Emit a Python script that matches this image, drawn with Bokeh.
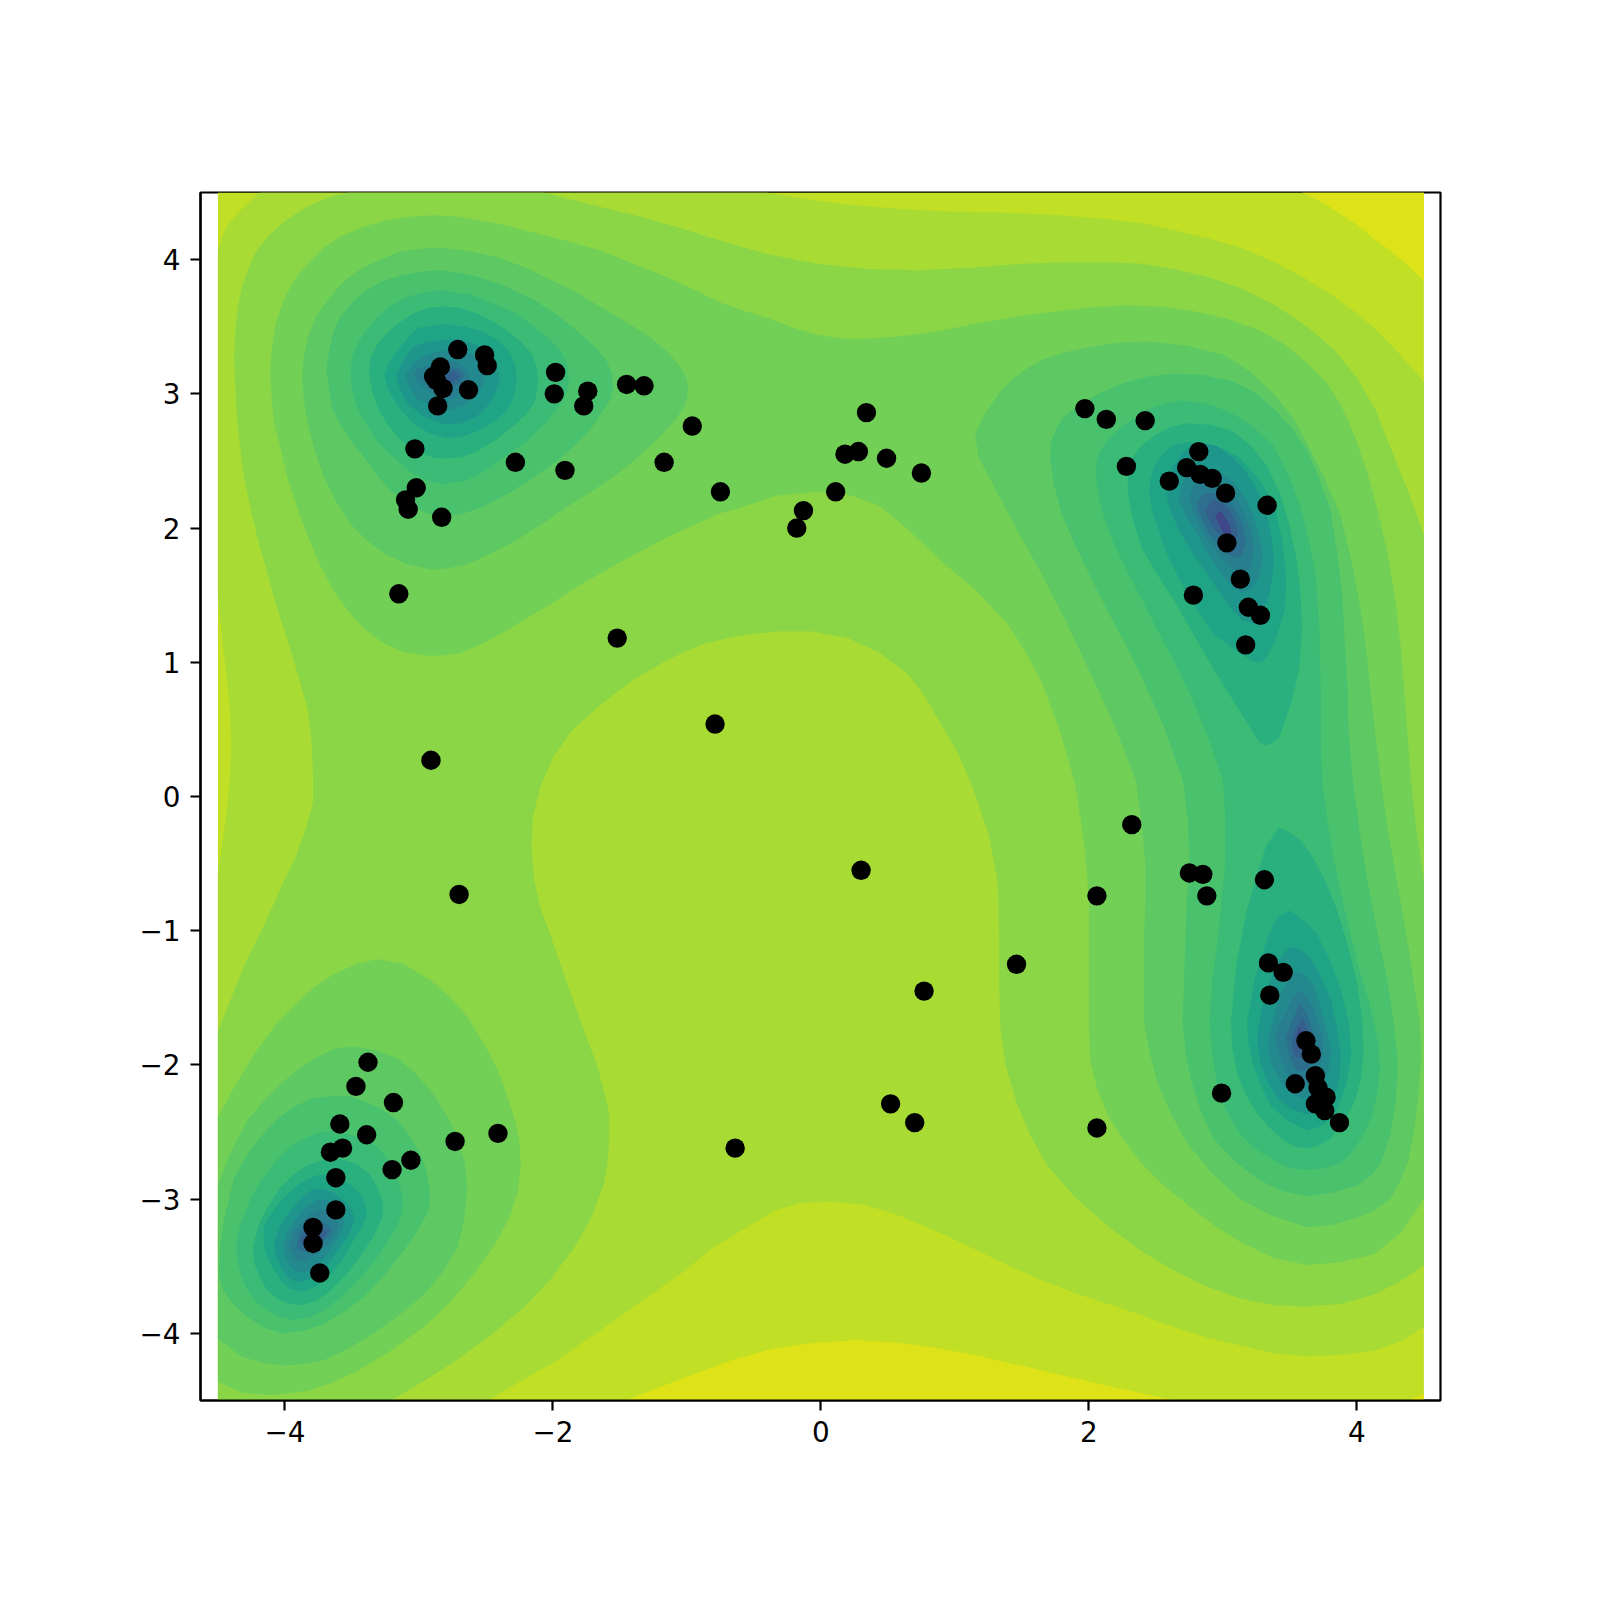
from bokeh.embed import file_html
from bokeh.models import ColumnDataSource, FixedTicker, Range1d
from bokeh.plotting import figure
from bokeh.resources import INLINE

# Scatter points
points_x = [-2.71,-2.51,-2.49,-2.84,-2.89,-2.87,-2.82,-2.63,-2.86,-1.98,-1.99,-1.74,-1.77,-1.45,-1.32,-0.96,-1.17,-2.28,-1.91,-0.75,-3.03,-3.02,-3.10,-3.08,-2.83,-3.15,-1.52,-0.79,-2.91,-2.70,
            0.34,0.28,0.18,0.49,0.75,0.11,-0.13,-0.18,0.30,0.77,1.46,0.52,0.70,-0.64,
            1.97,2.13,2.42,2.28,2.82,2.73,2.83,2.92,2.60,3.02,3.33,3.03,3.13,2.78,3.19,3.28,3.17,
            2.32,2.75,2.85,2.88,2.06,3.31,3.34,3.45,3.35,3.62,3.66,3.69,3.54,2.99,3.71,3.77,3.69,3.76,3.87,2.06,
            -3.38,-3.47,-3.19,-3.59,-3.39,-2.73,-2.41,-3.57,-3.66,-3.06,-3.20,-3.62,-3.62,-3.79,-3.79,-3.74]
points_y = [3.33,3.29,3.21,3.20,3.13,3.10,3.04,3.03,2.91,3.16,3.00,3.02,2.91,3.07,3.06,2.76,2.49,2.49,2.43,2.27,2.59,2.30,2.21,2.14,2.08,1.51,1.18,0.54,0.27,-0.73,
            2.86,2.57,2.55,2.52,2.41,2.27,2.13,2.00,-0.55,-1.45,-1.25,-2.29,-2.43,-2.62,
            2.89,2.81,2.80,2.46,2.57,2.45,2.40,2.37,2.35,2.26,2.17,1.89,1.62,1.50,1.41,1.35,1.13,
            -0.21,-0.57,-0.58,-0.74,-0.74,-0.62,-1.24,-1.31,-1.48,-1.82,-1.92,-2.08,-2.14,-2.21,-2.17,-2.24,-2.29,-2.34,-2.43,-2.47,
            -1.98,-2.16,-2.28,-2.44,-2.52,-2.57,-2.51,-2.62,-2.65,-2.71,-2.78,-2.84,-3.08,-3.21,-3.33,-3.55]

x_ticks = [-4, -2, 0, 2, 4]
y_ticks = [-4, -3, -2, -1, 0, 1, 2, 3, 4]
tick_labels = {-4: "\u22124", -3: "\u22123", -2: "\u22122", -1: "\u22121", 0: "0", 1: "1", 2: "2", 3: "3", 4: "4"}

band_colors = ["#dde318", "#c0df25", "#a8db34", "#8bd646", "#73d056", "#5ec962", "#4ac16d", "#3bbb75",
               "#2ab07f", "#20a486", "#1f968b", "#23898e", "#287d8e", "#2e6e8e", "#355f8d", "#3f4788"]

# Contour band outlines, (x, y) in data units
field = [(-4.5,-4.5),(-4.5,4.5),(4.5,4.5),(4.5,-4.5)]
l0_top_right = [(3.59,4.5),(3.74,4.43),(3.88,4.34),(4.0,4.26),(4.12,4.16),(4.23,4.08),(4.33,4.0),(4.42,3.92),(4.5,3.84),(4.5,4.5)]
l0_bottom = [(-1.46,-4.5),(-1.2,-4.40),(-0.94,-4.30),(-0.64,-4.19),(-0.34,-4.11),(-0.04,-4.07),(0.27,-4.05),(0.58,-4.07),(0.88,-4.11),(1.19,-4.17),(1.49,-4.24),(2.05,-4.37),(2.64,-4.5)]
l0_corner = [(4.38,-4.5),(4.5,-4.45),(4.5,-4.5)]

l2_main = [(-4.19,4.5),(-0.41,4.5),(-0.1,4.45),(0.2,4.41),(0.55,4.38),(0.89,4.36),(1.39,4.35),(1.78,4.33),(2.14,4.30),(2.40,4.27),(2.63,4.22),(2.89,4.16),(3.13,4.09),(3.39,3.98),(3.63,3.85),(3.82,3.73),(4.0,3.60),(4.13,3.49),(4.25,3.37),(4.38,3.23),(4.5,3.09),
           (4.5,-3.95),(4.33,-4.06),(4.13,-4.13),(3.9,-4.16),(3.63,-4.17),(3.38,-4.15),(3.13,-4.09),(2.88,-4.03),(2.63,-3.95),(2.38,-3.86),(2.14,-3.78),(1.89,-3.70),(1.64,-3.60),(1.39,-3.49),(1.14,-3.37),(0.89,-3.25),(0.58,-3.12),(0.32,-3.04),(0.05,-3.02),(-0.15,-3.03),(-0.34,-3.08),(-0.55,-3.21),(-0.79,-3.35),(-1.05,-3.56),(-1.35,-3.77),(-1.65,-3.98),(-1.97,-4.20),(-2.23,-4.35),(-2.49,-4.5),
           (-4.5,-4.5),(-4.5,-0.57),(-4.46,-0.30),(-4.43,-0.08),(-4.41,0.15),(-4.40,0.38),(-4.41,0.64),(-4.43,0.86),(-4.46,1.09),(-4.5,1.50),(-4.5,4.06),(-4.46,4.19),(-4.41,4.28),(-4.36,4.34),(-4.28,4.42)]

l3_main = [(-3.52,4.5),(-2.07,4.5),(-1.72,4.41),(-1.39,4.33),(-1.06,4.24),(-0.75,4.14),(-0.39,4.04),(-0.03,3.97),(0.35,3.93),(0.73,3.92),(1.12,3.94),(1.51,3.97),(1.83,3.98),(2.14,3.98),(2.40,3.97),(2.63,3.93),(2.89,3.87),(3.13,3.79),(3.39,3.66),(3.63,3.50),(3.83,3.33),(4.0,3.12),(4.14,2.88),(4.25,2.60),(4.38,2.28),(4.5,1.95),
           (4.5,-3.49),(4.33,-3.61),(4.13,-3.71),(3.88,-3.78),(3.63,-3.80),(3.38,-3.79),(3.13,-3.74),(2.88,-3.65),(2.63,-3.53),(2.38,-3.38),(2.14,-3.20),(1.90,-2.99),(1.69,-2.75),(1.56,-2.52),(1.46,-2.28),(1.38,-2.01),(1.34,-1.74),(1.33,-1.38),(1.33,-1.0),(1.32,-0.63),(1.25,-0.28),(1.14,0.05),(1.02,0.33),(0.89,0.55),(0.78,0.74),(0.65,0.91),(0.44,1.07),(0.2,1.18),(-0.06,1.23),(-0.33,1.23),(-0.60,1.20),(-0.87,1.14),(-1.14,1.02),(-1.40,0.87),(-1.65,0.68),(-1.86,0.49),(-2.0,0.29),(-2.09,0.08),(-2.15,-0.15),(-2.16,-0.38),(-2.14,-0.62),(-2.09,-0.84),(-2.03,-1.0),(-1.92,-1.32),(-1.83,-1.57),(-1.74,-1.82),(-1.67,-2.0),(-1.62,-2.19),(-1.58,-2.36),(-1.58,-2.54),(-1.59,-2.72),(-1.62,-2.89),(-1.71,-3.13),(-1.84,-3.36),(-2.02,-3.60),(-2.22,-3.81),(-2.46,-4.01),(-2.72,-4.20),(-2.97,-4.36),(-3.21,-4.5),
           (-4.5,-4.5),(-4.5,-1.75),(-4.40,-1.50),(-4.30,-1.25),(-4.16,-0.97),(-4.03,-0.68),(-3.92,-0.45),(-3.84,-0.23),(-3.79,-0.04),(-3.79,0.15),(-3.80,0.40),(-3.83,0.65),(-3.90,0.90),(-3.98,1.16),(-4.06,1.41),(-4.13,1.66),(-4.20,1.91),(-4.26,2.16),(-4.31,2.40),(-4.34,2.65),(-4.36,2.85),(-4.37,3.05),(-4.38,3.28),(-4.37,3.47),(-4.35,3.65),(-4.32,3.80),(-4.27,3.94),(-4.21,4.07),(-4.12,4.18),(-4.01,4.28),(-3.89,4.36),(-3.78,4.42),(-3.65,4.47)]

l4_main = [(-2.89,4.33),(-2.70,4.32),(-2.52,4.29),(-2.33,4.25),(-2.14,4.20),(-1.90,4.14),(-1.65,4.07),(-1.40,3.97),(-1.15,3.87),(-0.95,3.78),(-0.75,3.68),(-0.58,3.62),(-0.41,3.57),(-0.2,3.49),(-0.03,3.44),(0.17,3.41),(0.35,3.41),(0.62,3.43),(0.89,3.47),(1.25,3.54),(1.64,3.60),(1.95,3.64),(2.26,3.66),(2.52,3.65),(2.76,3.62),(3.03,3.56),(3.26,3.48),(3.46,3.37),(3.63,3.23),(3.77,3.09),(3.88,2.92),(3.99,2.67),(4.08,2.41),(4.16,2.11),(4.23,1.81),(4.29,1.45),(4.33,1.09),(4.37,0.57),(4.41,0.05),(4.45,-0.29),(4.5,-0.63),
           (4.5,-3.0),(4.33,-3.25),(4.13,-3.41),(3.88,-3.47),(3.63,-3.49),(3.38,-3.44),(3.13,-3.32),(2.94,-3.20),(2.76,-3.06),(2.56,-2.90),(2.39,-2.73),(2.25,-2.55),(2.14,-2.37),(2.06,-2.17),(2.01,-1.98),(2.0,-1.68),(2.0,-1.38),(2.0,-1.08),(2.0,-0.78),(1.98,-0.51),(1.95,-0.24),(1.89,0.12),(1.78,0.50),(1.64,0.87),(1.52,1.09),(1.39,1.29),(1.15,1.54),(0.89,1.76),(0.66,1.98),(0.43,2.17),(0.2,2.25),(-0.03,2.27),(-0.33,2.24),(-0.64,2.14),(-0.75,2.11),(-0.95,2.02),(-1.15,1.93),(-1.40,1.80),(-1.65,1.66),(-1.84,1.55),(-2.02,1.43),(-2.21,1.32),(-2.39,1.21),(-2.54,1.13),(-2.69,1.07),(-2.82,1.05),(-2.96,1.05),(-3.12,1.08),(-3.26,1.14),(-3.40,1.24),(-3.51,1.36),(-3.63,1.52),(-3.73,1.71),(-3.83,1.94),(-3.91,2.16),(-3.98,2.37),(-4.03,2.58),(-4.08,2.78),(-4.10,2.98),(-4.11,3.15),(-4.10,3.32),(-4.07,3.52),(-4.01,3.70),(-3.93,3.85),(-3.83,3.97),(-3.72,4.08),(-3.59,4.17),(-3.43,4.24),(-3.26,4.29),(-3.08,4.32)]
l4_low = [(-3.31,-1.21),(-3.47,-1.25),(-3.63,-1.32),(-3.78,-1.42),(-3.91,-1.54),(-4.07,-1.70),(-4.21,-1.89),(-4.36,-2.13),(-4.5,-2.39),(-4.5,-4.36),(-4.33,-4.44),(-4.11,-4.46),(-3.83,-4.43),(-3.65,-4.37),(-3.46,-4.28),(-3.21,-4.13),(-2.96,-3.95),(-2.77,-3.77),(-2.59,-3.56),(-2.44,-3.35),(-2.32,-3.13),(-2.26,-2.94),(-2.24,-2.74),(-2.25,-2.56),(-2.29,-2.39),(-2.35,-2.20),(-2.42,-2.02),(-2.52,-1.83),(-2.64,-1.64),(-2.77,-1.49),(-2.91,-1.37),(-3.11,-1.25)]

l5_tl = [(-2.84,4.09),(-2.61,4.06),(-2.39,4.01),(-2.20,3.94),(-2.02,3.85),(-1.83,3.76),(-1.65,3.65),(-1.46,3.54),(-1.27,3.42),(-1.14,3.31),(-1.05,3.20),(-1.00,3.11),(-0.99,3.03),(-1.00,2.96),(-1.02,2.90),(-1.10,2.79),(-1.20,2.68),(-1.35,2.54),(-1.52,2.40),(-1.70,2.28),(-1.89,2.16),(-2.08,2.03),(-2.27,1.91),(-2.46,1.81),(-2.64,1.73),(-2.78,1.70),(-2.91,1.69),(-3.09,1.73),(-3.26,1.81),(-3.39,1.91),(-3.51,2.03),(-3.62,2.20),(-3.71,2.38),(-3.78,2.58),(-3.83,2.78),(-3.86,2.96),(-3.87,3.13),(-3.86,3.28),(-3.83,3.42),(-3.77,3.57),(-3.68,3.70),(-3.57,3.83),(-3.44,3.93),(-3.29,4.00),(-3.14,4.06),(-2.99,4.08)]
l5_right = [(1.15,2.69),(1.20,2.81),(1.27,2.92),(1.35,3.03),(1.44,3.12),(1.54,3.19),(1.64,3.25),(1.82,3.31),(2.01,3.35),(2.22,3.38),(2.43,3.39),(2.73,3.36),(3.01,3.29),(3.21,3.16),(3.38,3.00),(3.52,2.83),(3.63,2.63),(3.76,2.37),(3.88,2.09),(3.96,1.75),(4.03,1.38),(4.07,1.10),(4.10,0.81),(4.14,0.45),(4.18,0.12),(4.23,-0.25),(4.30,-0.63),(4.39,-1.15),(4.47,-1.68),(4.48,-1.95),(4.46,-2.22),(4.43,-2.48),(4.38,-2.73),(4.32,-2.87),(4.25,-3.0),(4.12,-3.09),(4.00,-3.14),(3.82,-3.19),(3.63,-3.21),(3.38,-3.13),(3.13,-3.0),(2.92,-2.81),(2.73,-2.58),(2.61,-2.36),(2.51,-2.13),(2.45,-1.90),(2.41,-1.68),(2.41,-1.38),(2.41,-1.08),(2.42,-0.78),(2.42,-0.48),(2.39,-0.18),(2.35,0.12),(2.19,0.53),(2.01,0.92),(1.83,1.30),(1.64,1.67),(1.45,2.01),(1.27,2.35),(1.18,2.52)]
l5_bl = [(-3.49,-1.86),(-3.63,-1.88),(-3.76,-1.94),(-3.90,-2.03),(-4.03,-2.14),(-4.16,-2.27),(-4.28,-2.41),(-4.40,-2.64),(-4.5,-2.89),(-4.5,-4.04),(-4.33,-4.17),(-4.17,-4.22),(-4.01,-4.24),(-3.86,-4.23),(-3.71,-4.20),(-3.52,-4.11),(-3.34,-4.0),(-3.14,-3.86),(-2.96,-3.71),(-2.82,-3.54),(-2.71,-3.36),(-2.66,-3.14),(-2.64,-2.91),(-2.66,-2.72),(-2.71,-2.54),(-2.80,-2.36),(-2.91,-2.19),(-3.03,-2.06),(-3.16,-1.95),(-3.32,-1.89)]

l6_tl = [(-2.84,3.92),(-2.68,3.90),(-2.52,3.86),(-2.33,3.79),(-2.14,3.70),(-1.97,3.59),(-1.82,3.47),(-1.70,3.36),(-1.60,3.25),(-1.56,3.15),(-1.55,3.05),(-1.57,2.96),(-1.62,2.88),(-1.71,2.75),(-1.82,2.63),(-1.97,2.50),(-2.14,2.38),(-2.33,2.26),(-2.52,2.16),(-2.66,2.11),(-2.79,2.08),(-2.94,2.11),(-3.08,2.18),(-3.21,2.28),(-3.32,2.40),(-3.41,2.53),(-3.51,2.65),(-3.59,2.78),(-3.65,2.90),(-3.67,3.03),(-3.69,3.18),(-3.67,3.32),(-3.64,3.45),(-3.59,3.57),(-3.50,3.68),(-3.39,3.77),(-3.27,3.84),(-3.14,3.88),(-2.99,3.91)]
l6_right = [(1.71,2.52),(1.72,2.65),(1.76,2.75),(1.81,2.83),(1.89,2.89),(2.07,3.0),(2.26,3.08),(2.44,3.13),(2.63,3.15),(2.86,3.14),(3.08,3.09),(3.24,3.01),(3.38,2.89),(3.51,2.75),(3.63,2.58),(3.72,2.37),(3.80,2.15),(3.85,1.84),(3.89,1.52),(3.91,1.15),(3.93,0.81),(3.94,0.45),(3.97,0.12),(4.02,-0.25),(4.08,-0.63),(4.15,-1.0),(4.23,-1.38),(4.27,-1.65),(4.30,-1.92),(4.30,-2.10),(4.29,-2.28),(4.25,-2.52),(4.18,-2.73),(4.10,-2.83),(4.00,-2.90),(3.82,-2.95),(3.63,-2.98),(3.44,-2.94),(3.26,-2.85),(3.09,-2.72),(2.93,-2.55),(2.83,-2.33),(2.76,-2.10),(2.72,-1.90),(2.70,-1.68),(2.71,-1.38),(2.72,-1.08),(2.73,-0.78),(2.75,-0.48),(2.74,-0.18),(2.70,0.12),(2.56,0.52),(2.39,0.90),(2.27,1.14),(2.14,1.38),(2.01,1.64),(1.89,1.89),(1.80,2.10),(1.74,2.32)]
l6_bl = [(-3.66,-2.23),(-3.53,-2.23),(-3.41,-2.27),(-3.28,-2.33),(-3.16,-2.41),(-3.07,-2.53),(-2.99,-2.66),(-2.94,-2.80),(-2.92,-2.94),(-2.92,-3.03),(-2.94,-3.11),(-3.02,-3.25),(-3.11,-3.38),(-3.25,-3.56),(-3.41,-3.73),(-3.56,-3.84),(-3.71,-3.93),(-3.86,-3.98),(-4.01,-4.0),(-4.15,-3.96),(-4.28,-3.88),(-4.38,-3.79),(-4.46,-3.68),(-4.49,-3.58),(-4.49,-3.48),(-4.48,-3.33),(-4.46,-3.18),(-4.42,-3.01),(-4.38,-2.84),(-4.28,-2.67),(-4.16,-2.51),(-4.04,-2.39),(-3.91,-2.30),(-3.79,-2.25)]

l7_tl = [(-2.81,3.77),(-2.62,3.74),(-2.44,3.67),(-2.28,3.60),(-2.14,3.50),(-2.02,3.40),(-1.93,3.30),(-1.89,3.20),(-1.88,3.10),(-1.90,3.01),(-1.94,2.93),(-2.06,2.78),(-2.19,2.65),(-2.36,2.53),(-2.52,2.42),(-2.66,2.35),(-2.81,2.33),(-2.93,2.35),(-3.04,2.40),(-3.18,2.52),(-3.31,2.65),(-3.39,2.77),(-3.46,2.90),(-3.50,3.03),(-3.51,3.15),(-3.50,3.27),(-3.46,3.37),(-3.39,3.48),(-3.31,3.57),(-3.20,3.66),(-3.09,3.72),(-2.95,3.76)]
l7_right = [(2.05,2.41),(2.06,2.50),(2.09,2.58),(2.15,2.67),(2.24,2.75),(2.35,2.83),(2.46,2.89),(2.57,2.93),(2.68,2.95),(2.87,2.93),(3.06,2.86),(3.23,2.75),(3.38,2.61),(3.49,2.39),(3.58,2.15),(3.64,1.91),(3.69,1.67),(3.72,1.24),(3.73,0.81),(3.73,0.45),(3.74,0.12),(3.78,-0.18),(3.83,-0.48),(3.91,-0.85),(4.00,-1.23),(4.09,-1.53),(4.16,-1.83),(4.17,-2.03),(4.15,-2.22),(4.11,-2.38),(4.05,-2.52),(3.97,-2.64),(3.88,-2.73),(3.76,-2.77),(3.63,-2.78),(3.50,-2.77),(3.38,-2.71),(3.25,-2.63),(3.13,-2.52),(3.03,-2.35),(2.96,-2.16),(2.92,-1.92),(2.90,-1.68),(2.92,-1.38),(2.96,-1.08),(2.99,-0.78),(3.02,-0.48),(3.02,-0.18),(3.0,0.12),(2.89,0.44),(2.76,0.75),(2.64,1.0),(2.51,1.24),(2.40,1.46),(2.29,1.67),(2.19,1.88),(2.11,2.09),(2.07,2.25)]
l7_bl = [(-3.76,-2.51),(-3.65,-2.49),(-3.54,-2.51),(-3.42,-2.55),(-3.31,-2.61),(-3.22,-2.72),(-3.16,-2.84),(-3.13,-2.95),(-3.12,-3.06),(-3.15,-3.17),(-3.21,-3.28),(-3.32,-3.45),(-3.46,-3.61),(-3.58,-3.73),(-3.71,-3.83),(-3.82,-3.88),(-3.93,-3.90),(-4.03,-3.88),(-4.11,-3.84),(-4.21,-3.77),(-4.28,-3.68),(-4.33,-3.56),(-4.36,-3.43),(-4.36,-3.30),(-4.33,-3.18),(-4.26,-3.01),(-4.18,-2.86),(-4.07,-2.72),(-3.96,-2.61),(-3.86,-2.55)]

l8_tl = [(-2.81,3.65),(-2.69,3.64),(-2.57,3.60),(-2.45,3.54),(-2.34,3.47),(-2.24,3.39),(-2.16,3.30),(-2.12,3.20),(-2.11,3.10),(-2.12,3.01),(-2.14,2.93),(-2.20,2.85),(-2.27,2.78),(-2.42,2.66),(-2.57,2.57),(-2.68,2.53),(-2.79,2.52),(-2.88,2.52),(-2.96,2.55),(-3.07,2.60),(-3.16,2.68),(-3.24,2.78),(-3.31,2.90),(-3.35,3.02),(-3.37,3.13),(-3.37,3.21),(-3.36,3.27),(-3.31,3.37),(-3.24,3.45),(-3.15,3.53),(-3.04,3.60),(-2.93,3.64)]
l8_right = [(2.29,2.26),(2.29,2.40),(2.32,2.52),(2.39,2.61),(2.49,2.69),(2.60,2.75),(2.73,2.78),(2.91,2.77),(3.08,2.72),(3.21,2.61),(3.33,2.46),(3.43,2.25),(3.50,2.01),(3.55,1.77),(3.58,1.52),(3.59,1.24),(3.57,0.95),(3.51,0.70),(3.42,0.44),(3.37,0.40),(3.32,0.38),(3.27,0.41),(3.23,0.47),(3.08,0.71),(2.93,0.95),(2.78,1.21),(2.63,1.47),(2.50,1.67),(2.39,1.86),(2.33,2.06)]
l8_low = [(3.42,-0.23),(3.50,-0.27),(3.58,-0.33),(3.65,-0.42),(3.76,-0.62),(3.85,-0.84),(3.93,-1.10),(4.0,-1.38),(4.04,-1.65),(4.05,-1.92),(4.03,-2.11),(3.98,-2.28),(3.90,-2.43),(3.80,-2.55),(3.72,-2.60),(3.63,-2.62),(3.54,-2.61),(3.45,-2.56),(3.35,-2.47),(3.26,-2.37),(3.17,-2.22),(3.11,-2.07),(3.07,-1.88),(3.06,-1.68),(3.10,-1.25),(3.18,-0.84),(3.25,-0.60),(3.32,-0.37)]
l8_bl = [(-3.71,-2.71),(-3.58,-2.70),(-3.46,-2.74),(-3.37,-2.81),(-3.31,-2.91),(-3.27,-3.02),(-3.27,-3.13),(-3.34,-3.28),(-3.44,-3.43),(-3.55,-3.57),(-3.66,-3.68),(-3.77,-3.76),(-3.88,-3.79),(-3.98,-3.78),(-4.06,-3.74),(-4.14,-3.67),(-4.19,-3.58),(-4.23,-3.47),(-4.24,-3.36),(-4.20,-3.20),(-4.13,-3.06),(-4.04,-2.92),(-3.93,-2.81),(-3.82,-2.74)]

l9_tl = [(-2.80,3.52),(-2.65,3.50),(-2.52,3.46),(-2.41,3.40),(-2.33,3.32),(-2.28,3.21),(-2.27,3.10),(-2.29,2.98),(-2.34,2.88),(-2.44,2.79),(-2.57,2.72),(-2.68,2.68),(-2.80,2.67),(-2.93,2.71),(-3.04,2.78),(-3.11,2.85),(-3.17,2.93),(-3.23,3.03),(-3.26,3.14),(-3.22,3.24),(-3.16,3.32),(-3.09,3.41),(-3.01,3.49),(-2.91,3.51)]
l9_right = [(2.45,2.26),(2.46,2.37),(2.49,2.46),(2.55,2.55),(2.63,2.62),(2.74,2.64),(2.86,2.63),(3.00,2.59),(3.13,2.52),(3.27,2.36),(3.38,2.18),(3.44,1.93),(3.47,1.67),(3.47,1.52),(3.46,1.38),(3.40,1.19),(3.33,1.04),(3.28,1.00),(3.23,1.0),(3.08,1.10),(2.93,1.21),(2.80,1.40),(2.68,1.61),(2.58,1.81),(2.51,2.01),(2.47,2.14)]
l9_low = [(3.50,-0.85),(3.60,-0.92),(3.70,-1.02),(3.80,-1.22),(3.88,-1.44),(3.94,-1.68),(3.96,-1.92),(3.92,-2.15),(3.85,-2.34),(3.75,-2.45),(3.63,-2.49),(3.49,-2.42),(3.36,-2.31),(3.28,-2.15),(3.22,-1.98),(3.19,-1.83),(3.18,-1.68),(3.24,-1.35),(3.34,-1.03),(3.41,-0.90)]
l9_bl = [(-3.76,-2.82),(-3.67,-2.82),(-3.59,-2.85),(-3.50,-2.90),(-3.44,-2.96),(-3.40,-3.04),(-3.39,-3.13),(-3.43,-3.22),(-3.49,-3.31),(-3.57,-3.45),(-3.66,-3.56),(-3.77,-3.65),(-3.87,-3.69),(-3.96,-3.67),(-4.03,-3.61),(-4.10,-3.50),(-4.15,-3.38),(-4.16,-3.27),(-4.15,-3.18),(-4.07,-3.06),(-3.98,-2.96),(-3.87,-2.87)]

l10_tl = [(-2.80,3.40),(-2.72,3.41),(-2.64,3.39),(-2.56,3.36),(-2.49,3.30),(-2.43,3.23),(-2.40,3.15),(-2.40,3.09),(-2.42,3.03),(-2.48,2.92),(-2.57,2.83),(-2.68,2.78),(-2.80,2.77),(-2.96,2.83),(-3.09,2.93),(-3.14,3.03),(-3.17,3.14),(-3.11,3.26),(-3.04,3.35),(-2.93,3.39)]
l10_right = [(2.58,2.24),(2.59,2.36),(2.63,2.46),(2.70,2.56),(2.78,2.62),(2.87,2.63),(2.96,2.61),(3.08,2.52),(3.18,2.41),(3.26,2.27),(3.32,2.12),(3.36,1.95),(3.38,1.78),(3.37,1.63),(3.34,1.49),(3.29,1.37),(3.23,1.29),(3.15,1.31),(3.08,1.38),(2.97,1.53),(2.86,1.69),(2.75,1.85),(2.66,2.01),(2.61,2.13)]
l10_low = [(3.50,-1.12),(3.58,-1.14),(3.65,-1.20),(3.73,-1.34),(3.80,-1.50),(3.85,-1.71),(3.88,-1.92),(3.87,-2.10),(3.83,-2.25),(3.74,-2.34),(3.63,-2.37),(3.51,-2.33),(3.41,-2.25),(3.33,-2.12),(3.28,-1.98),(3.26,-1.86),(3.26,-1.74),(3.30,-1.54),(3.36,-1.35),(3.43,-1.20)]
l10_bl = [(-3.73,-2.92),(-3.64,-2.95),(-3.56,-3.01),(-3.50,-3.08),(-3.48,-3.16),(-3.52,-3.26),(-3.59,-3.36),(-3.66,-3.46),(-3.73,-3.54),(-3.82,-3.60),(-3.91,-3.62),(-3.98,-3.58),(-4.03,-3.51),(-4.07,-3.42),(-4.08,-3.33),(-4.04,-3.21),(-3.98,-3.11),(-3.92,-3.04),(-3.86,-2.98),(-3.80,-2.93)]

l11_tl = [(-2.79,3.32),(-2.69,3.32),(-2.61,3.30),(-2.54,3.23),(-2.50,3.15),(-2.52,3.06),(-2.57,2.98),(-2.67,2.91),(-2.78,2.88),(-2.90,2.91),(-3.01,2.96),(-3.07,3.05),(-3.10,3.14),(-3.05,3.22),(-2.99,3.27),(-2.89,3.31)]
l11_right = [(2.67,2.21),(2.69,2.32),(2.73,2.41),(2.80,2.45),(2.88,2.45),(2.98,2.41),(3.08,2.35),(3.17,2.22),(3.23,2.09),(3.27,1.95),(3.30,1.81),(3.29,1.70),(3.26,1.61),(3.20,1.54),(3.14,1.52),(3.06,1.57),(2.98,1.67),(2.89,1.81),(2.81,1.95),(2.73,2.08)]
l11_low = [(3.53,-1.30),(3.61,-1.33),(3.68,-1.41),(3.75,-1.64),(3.81,-1.89),(3.79,-2.03),(3.75,-2.16),(3.68,-2.23),(3.60,-2.25),(3.52,-2.22),(3.45,-2.16),(3.40,-2.07),(3.36,-1.98),(3.34,-1.89),(3.34,-1.80),(3.38,-1.63),(3.43,-1.47),(3.48,-1.37)]
l11_bl = [(-3.75,-3.0),(-3.68,-3.01),(-3.61,-3.05),(-3.57,-3.11),(-3.55,-3.18),(-3.60,-3.28),(-3.66,-3.38),(-3.73,-3.46),(-3.81,-3.53),(-3.86,-3.55),(-3.91,-3.54),(-3.96,-3.50),(-3.99,-3.44),(-4.01,-3.39),(-4.01,-3.33),(-3.98,-3.24),(-3.93,-3.16),(-3.85,-3.06)]

l12_tl = [(-2.78,3.25),(-2.69,3.22),(-2.62,3.14),(-2.64,3.08),(-2.69,3.03),(-2.72,2.98),(-2.76,2.96),(-2.85,2.98),(-2.94,3.03),(-3.00,3.08),(-3.04,3.14),(-3.00,3.19),(-2.94,3.21),(-2.86,3.24)]
l12_right = [(2.75,2.23),(2.78,2.31),(2.82,2.35),(2.89,2.37),(2.96,2.35),(3.04,2.29),(3.11,2.21),(3.17,2.08),(3.22,1.95),(3.23,1.83),(3.21,1.72),(3.17,1.67),(3.11,1.67),(3.03,1.73),(2.96,1.81),(2.89,1.91),(2.83,2.01),(2.78,2.12)]
l12_low = [(3.57,-1.44),(3.63,-1.50),(3.68,-1.59),(3.72,-1.71),(3.75,-1.83),(3.74,-1.96),(3.70,-2.07),(3.66,-2.14),(3.60,-2.16),(3.54,-2.14),(3.48,-2.07),(3.43,-1.94),(3.39,-1.80),(3.43,-1.68),(3.48,-1.59),(3.52,-1.50)]
l12_bl = [(-3.75,-3.08),(-3.68,-3.09),(-3.63,-3.13),(-3.60,-3.18),(-3.61,-3.23),(-3.65,-3.30),(-3.71,-3.36),(-3.78,-3.42),(-3.86,-3.46),(-3.92,-3.45),(-3.95,-3.40),(-3.97,-3.36),(-3.96,-3.31),(-3.93,-3.24),(-3.88,-3.18),(-3.81,-3.11)]

l13_tl = [(-2.76,3.20),(-2.70,3.18),(-2.66,3.14),(-2.69,3.08),(-2.76,3.04),(-2.83,3.05),(-2.89,3.08),(-2.91,3.12),(-2.90,3.16),(-2.83,3.19)]
l13_right = [(2.81,2.18),(2.84,2.24),(2.88,2.26),(2.95,2.26),(3.01,2.23),(3.08,2.15),(3.13,2.06),(3.16,1.96),(3.17,1.88),(3.14,1.80),(3.08,1.78),(3.02,1.82),(2.96,1.89),(2.90,1.96),(2.86,2.03),(2.82,2.11)]
l13_low = [(3.58,-1.54),(3.63,-1.63),(3.69,-1.80),(3.68,-1.91),(3.65,-2.01),(3.60,-2.05),(3.55,-2.04),(3.50,-1.94),(3.47,-1.80),(3.52,-1.66)]
l13_bl = [(-3.72,-3.17),(-3.68,-3.19),(-3.65,-3.23),(-3.68,-3.28),(-3.73,-3.33),(-3.79,-3.37),(-3.85,-3.39),(-3.89,-3.38),(-3.91,-3.36),(-3.90,-3.29),(-3.88,-3.23),(-3.80,-3.18)]

l14_tl = [(-2.74,3.17),(-2.69,3.13),(-2.76,3.08),(-2.82,3.12)]
l14_right = [(2.87,2.12),(2.90,2.18),(2.93,2.21),(2.99,2.19),(3.04,2.15),(3.08,2.07),(3.11,1.98),(3.10,1.91),(3.08,1.86),(3.03,1.90),(2.98,1.95),(2.94,1.99),(2.91,2.03)]
l14_low = [(3.59,-1.65),(3.62,-1.70),(3.64,-1.77),(3.63,-1.87),(3.60,-1.95),(3.56,-1.95),(3.53,-1.92),(3.52,-1.86),(3.52,-1.80),(3.55,-1.72)]
l14_bl = [(-3.78,-3.22),(-3.72,-3.22),(-3.68,-3.24),(-3.71,-3.29),(-3.75,-3.33),(-3.80,-3.35),(-3.85,-3.35),(-3.88,-3.32),(-3.88,-3.28),(-3.83,-3.24)]

l15_right = [(2.94,2.09),(2.97,2.12),(2.99,2.12),(3.03,2.06),(3.06,2.00),(3.06,1.93),(3.03,1.94),(3.00,1.97),(2.97,2.03)]
l15_low = [(3.57,-1.72),(3.60,-1.78),(3.59,-1.87),(3.56,-1.88),(3.55,-1.80)]

layers = [
    (1, field), (0, l0_top_right), (0, l0_bottom), (0, l0_corner),
    (2, l2_main), (3, l3_main), (4, l4_main), (4, l4_low),
    (5, l5_tl), (5, l5_right), (5, l5_bl), (6, l6_tl), (6, l6_right), (6, l6_bl),
    (7, l7_tl), (7, l7_right), (7, l7_bl), (8, l8_tl), (8, l8_right), (8, l8_low), (8, l8_bl),
    (9, l9_tl), (9, l9_right), (9, l9_low), (9, l9_bl), (10, l10_tl), (10, l10_right), (10, l10_low), (10, l10_bl),
    (11, l11_tl), (11, l11_right), (11, l11_low), (11, l11_bl), (12, l12_tl), (12, l12_right), (12, l12_low), (12, l12_bl),
    (13, l13_tl), (13, l13_right), (13, l13_low), (13, l13_bl), (14, l14_tl), (14, l14_right), (14, l14_low), (14, l14_bl),
    (15, l15_right), (15, l15_low),
]

p = figure(width=1590, height=1590, output_backend="svg", toolbar_location=None,
           x_range=Range1d(-4.63, 4.624), y_range=Range1d(-4.5, 4.5),
           min_border_left=200, min_border_right=150, min_border_top=192, min_border_bottom=190,
           background_fill_color="white", border_fill_color="white")
p.frame_width = 1240
p.frame_height = 1208
p.grid.visible = False

source = ColumnDataSource(dict(
    xs=[[pt[0] for pt in poly] for _, poly in layers],
    ys=[[pt[1] for pt in poly] for _, poly in layers],
    color=[band_colors[i] for i, _ in layers],
))
p.patches("xs", "ys", source=source, fill_color="color", line_color=None)
p.scatter(points_x, points_y, size=19.4, color="black", line_color=None)

p.xaxis.ticker = FixedTicker(ticks=x_ticks)
p.yaxis.ticker = FixedTicker(ticks=y_ticks)
for ax in (p.xaxis[0], p.yaxis[0]):
    ax.major_label_overrides = tick_labels
    ax.major_label_text_font = "DejaVu Sans"
    ax.major_label_text_font_size = "27.8px"
    ax.major_label_text_color = "black"
    ax.major_label_standoff = 10
    ax.major_tick_in = 0
    ax.major_tick_out = 10
    ax.major_tick_line_width = 2.2
    ax.major_tick_line_color = "black"
    ax.minor_tick_line_color = None
    ax.axis_line_width = 2.2
    ax.axis_line_color = "black"
p.outline_line_color = "black"
p.outline_line_width = 2.2
p.outline_line_alpha = 1

open("out.html", "w").write(file_html(p, INLINE))
